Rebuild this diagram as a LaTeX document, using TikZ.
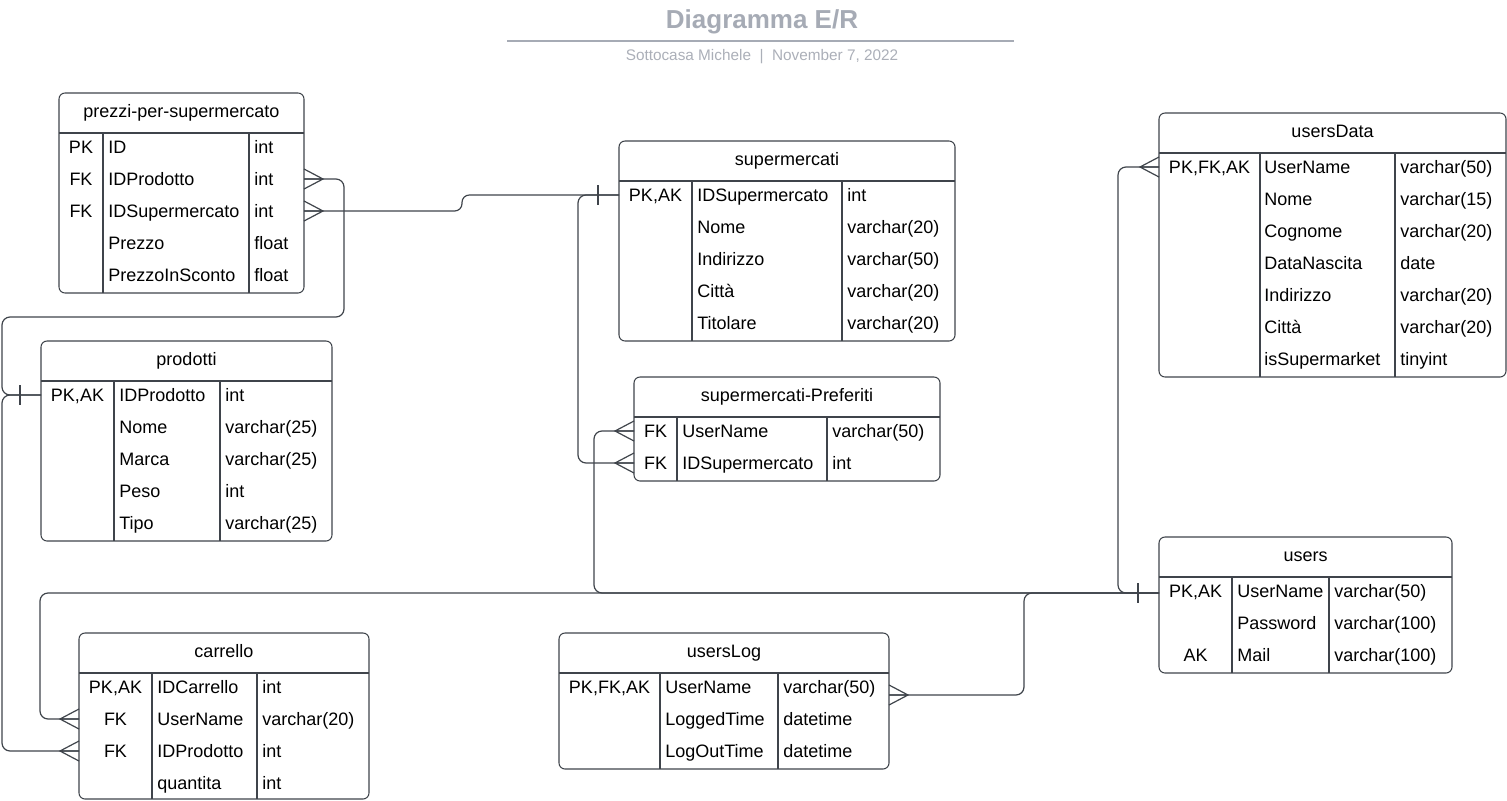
\documentclass[tikz,border=0pt]{standalone}
\usepackage{fontspec}
\setmainfont{Liberation Sans}
\usetikzlibrary{fit}
\definecolor{ln}{HTML}{3F444B}
\definecolor{ttlc}{HTML}{A6ABB5}
\definecolor{subc}{HTML}{ABAFB8}
\tikzset{
  tbl/.style={draw=ln, line width=0.8pt, rounded corners=4.5pt, inner sep=0pt, outer sep=0pt},
  tline/.style={draw=ln, line width=0.8pt},
  conn/.style={draw=ln, line width=0.9pt, rounded corners=6pt},
  foot/.style={draw=ln, line width=0.9pt},
  txt/.style={font=\fontsize{13.5}{16}\selectfont, inner sep=0pt, text height=9.7pt, text depth=0pt},
  ttl/.style={txt, anchor=center},
  kc/.style={txt, anchor=center},
  nc/.style={txt, anchor=west},
}
% name, x1, y1, x2, y2, header y, col1 x, col2 x, title
\newcommand\ertab[9]{%
  \node[tbl, fit={(#2,#3) (#4,#5)}] (#1) {};
  \draw[tline] (#2,#6) -- (#4,#6);
  \draw[tline] (#7,#6) -- (#7,#5);
  \draw[tline] (#8,#6) -- (#8,#5);
  \node[ttl] (#1-t) at ({(#2+#4)/2},{(#3+#6)/2-2}) {#9};
}
% prefix, y, key x, name x, type x, key, name, type
\newcommand\errow[8]{%
  \node[kc] (#1k) at (#3,#2) {#6};
  \node[nc] (#1n) at (#4,#2) {#7};
  \node[nc] (#1y) at (#5,#2) {#8};
}
% crow foot, table on the left of the point
\newcommand\crowE[1]{\draw[foot] #1 ++(0,-10) -- ++(19,10) -- ++(-19,10) #1 -- ++(19,0);}
% crow foot, table on the right of the point
\newcommand\crowW[1]{\draw[foot] #1 ++(0,-10) -- ++(-19,10) -- ++(19,10) #1 -- ++(-19,0);}
% bar, table on the right of the point
\newcommand\barW[1]{\draw[foot] #1 ++(-21,-10) -- ++(0,20);}

\begin{document}
\begin{tikzpicture}[x=0.75pt, y=-0.75pt]
\useasboundingbox (0,0) rectangle (1507,800);

% title
\node[font=\bfseries\fontsize{19.5}{22}\selectfont, text=ttlc, inner sep=0pt] (title) at (762,22) {Diagramma E/R};
\coordinate (tl1) at (507,41);
\coordinate (tl2) at (1014,41);
\draw[ttlc, line width=1.6pt] (tl1) -- (tl2);
\node[font=\fontsize{11.5}{14}\selectfont, text=subc, inner sep=0pt] (subtitle) at (762,57) {Sottocasa Michele \ | \ November 7, 2022};

% prezzi-per-supermercato
\ertab{pp}{59}{93}{304}{293}{133}{103}{249}{prezzi-per-supermercato}
\errow{pp1}{147}{81}{108}{254}{PK}{ID}{int}
\errow{pp2}{179}{81}{108}{254}{FK}{IDProdotto}{int}
\errow{pp3}{211}{81}{108}{254}{FK}{IDSupermercato}{int}
\errow{pp4}{243}{81}{108}{254}{}{Prezzo}{float}
\errow{pp5}{275}{81}{108}{254}{}{PrezzoInSconto}{float}

% supermercati
\ertab{sm}{619}{141}{955}{341}{181}{692}{842}{supermercati}
\errow{sm1}{195}{655.5}{697}{847}{PK,AK}{IDSupermercato}{int}
\errow{sm2}{227}{655.5}{697}{847}{}{Nome}{varchar(20)}
\errow{sm3}{259}{655.5}{697}{847}{}{Indirizzo}{varchar(50)}
\errow{sm4}{291}{655.5}{697}{847}{}{Città}{varchar(20)}
\errow{sm5}{323}{655.5}{697}{847}{}{Titolare}{varchar(20)}

% usersData
\ertab{ud}{1159}{113}{1506}{377}{153}{1260}{1395}{usersData}
\errow{ud1}{167}{1209.5}{1264}{1400}{PK,FK,AK}{UserName}{varchar(50)}
\errow{ud2}{199}{1209.5}{1264}{1400}{}{Nome}{varchar(15)}
\errow{ud3}{231}{1209.5}{1264}{1400}{}{Cognome}{varchar(20)}
\errow{ud4}{263}{1209.5}{1264}{1400}{}{DataNascita}{date}
\errow{ud5}{295}{1209.5}{1264}{1400}{}{Indirizzo}{varchar(20)}
\errow{ud6}{327}{1209.5}{1264}{1400}{}{Città}{varchar(20)}
\errow{ud7}{359}{1209.5}{1264}{1400}{}{isSupermarket}{tinyint}

% prodotti
\ertab{pd}{41}{341}{332}{541}{381}{114}{220}{prodotti}
\errow{pd1}{395}{77.5}{119}{225}{PK,AK}{IDProdotto}{int}
\errow{pd2}{427}{77.5}{119}{225}{}{Nome}{varchar(25)}
\errow{pd3}{459}{77.5}{119}{225}{}{Marca}{varchar(25)}
\errow{pd4}{491}{77.5}{119}{225}{}{Peso}{int}
\errow{pd5}{523}{77.5}{119}{225}{}{Tipo}{varchar(25)}

% supermercati-Preferiti
\ertab{sp}{634}{377}{940}{481}{417}{677}{827}{supermercati-Preferiti}
\errow{sp1}{431}{655.5}{682}{832}{FK}{UserName}{varchar(50)}
\errow{sp2}{463}{655.5}{682}{832}{FK}{IDSupermercato}{int}

% users
\ertab{us}{1159}{537}{1452}{673}{577}{1232}{1329}{users}
\errow{us1}{591}{1195.5}{1237}{1334}{PK,AK}{UserName}{varchar(50)}
\errow{us2}{623}{1195.5}{1237}{1334}{}{Password}{varchar(100)}
\errow{us3}{655}{1195.5}{1237}{1334}{AK}{Mail}{varchar(100)}
\coordinate (usc) at ([yshift=-1.5pt]us1k.center);

% carrello
\ertab{cr}{79}{633}{369}{799}{673}{152}{257}{carrello}
\errow{cr1}{687}{115.5}{157}{262}{PK,AK}{IDCarrello}{int}
\errow{cr2}{719}{115.5}{157}{262}{FK}{UserName}{varchar(20)}
\errow{cr3}{751}{115.5}{157}{262}{FK}{IDProdotto}{int}
\errow{cr4}{783}{115.5}{157}{262}{}{quantita}{int}

% usersLog
\ertab{ul}{559}{633}{889}{769}{673}{660}{778}{usersLog}
\errow{ul1}{687}{609.5}{665}{783}{PK,FK,AK}{UserName}{varchar(50)}
\errow{ul2}{719}{609.5}{665}{783}{}{LoggedTime}{datetime}
\errow{ul3}{751}{609.5}{665}{783}{}{LogOutTime}{datetime}
\coordinate (ulc) at ([yshift=-6pt]ul1k.center);

% connectors
\draw[conn] (pp.east |- pp2k) -| (344,317) -- (2,317) |- (pd.west |- pd1k);
\draw[conn] (cr.west |- cr3k) -| (2,395) -- (pd.west |- pd1k);
\draw[conn, rounded corners=5.5pt] (pp.east |- pp3k) -- (462,211) -- (462,195) -- (sm.west |- sm1k);
\draw[conn] (sm.west |- sm1k) -- (578,195) |- (sp.west |- sp2k);
\draw[conn] (us.west |- usc) -- (1118,593) |- (ud.west |- ud1k);
\draw[conn] (us.west |- usc) -- (594,593) |- (sp.west |- sp1k);
\draw[conn] (us.west |- usc) -- (40,593) |- (cr.west |- cr2k);
\draw[conn] (us.west |- usc) -- (1024,593) |- (ul.east |- ulc);

% ends
\crowE{(pp.east |- pp2k)}
\crowE{(pp.east |- pp3k)}
\crowW{(sp.west |- sp1k)}
\crowW{(sp.west |- sp2k)}
\crowW{(ud.west |- ud1k)}
\crowW{(cr.west |- cr2k)}
\crowW{(cr.west |- cr3k)}
\crowE{(ul.east |- ulc)}
\barW{(sm.west |- sm1k)}
\barW{(pd.west |- pd1k)}
\barW{(us.west |- usc)}
\end{tikzpicture}
\end{document}
